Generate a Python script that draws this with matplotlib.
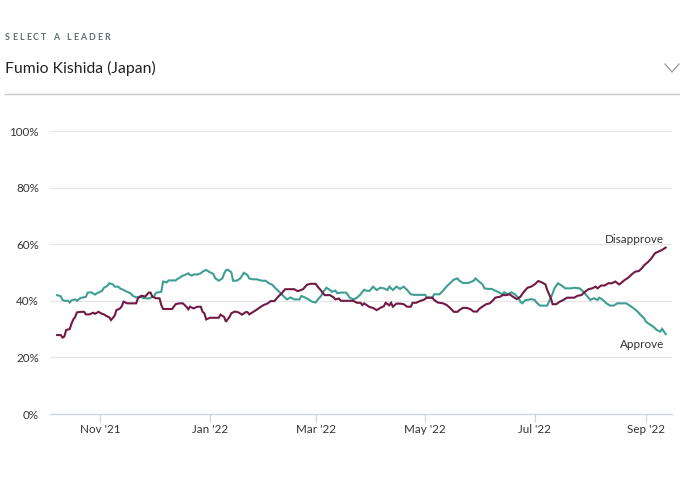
import numpy as np
import pandas as pd
import matplotlib
matplotlib.use("Agg")
from matplotlib import pyplot as plt
import matplotlib.dates as mdates
from matplotlib.lines import Line2D

Start = pd.Timestamp("2021-10-04")

# days since Start, approval share in %
ApproveDay = [4, 6, 7, 8, 10, 11, 12, 14, 15, 17, 20, 21, 23, 25, 26, 27, 29, 30, 32, 33,
              35, 36, 38, 39, 41, 43, 45, 46, 48, 50, 52, 55, 58, 59, 62, 63, 65, 66, 68, 70,
              71, 72, 74, 75, 77, 78, 79, 80, 82, 84, 85, 87, 89, 91, 92, 94, 96, 97, 98, 99,
              101, 102, 104, 106, 108, 110, 111, 113, 115, 118, 120, 122, 124, 125, 127, 130, 132, 134, 136, 139,
              140, 142, 144, 146, 148, 149, 151, 152, 154, 156, 157, 159, 160, 162, 163, 165, 167, 169, 171, 173,
              175, 176, 178, 180, 182, 184, 186, 188, 189, 191, 193, 195, 197, 199, 201, 203, 209, 210, 213, 214,
              217, 219, 221, 223, 225, 227, 228, 230, 233, 235, 236, 237, 239, 241, 242, 244, 246, 248, 250, 252,
              253, 255, 257, 259, 261, 262, 263, 265, 266, 268, 270, 271, 273, 277, 278, 280, 281, 283, 285, 287,
              290, 292, 295, 297, 299, 301, 303, 305, 306, 308, 310, 312, 314, 316, 318, 321, 323, 325, 327, 329,
              331, 332, 334, 336, 338, 340, 341, 343]
Approve = [42.0, 41.6, 40.3, 40.0, 40.0, 39.4, 40.2, 40.5, 40.0, 41.0, 41.4, 42.9, 43.0, 42.2, 42.6, 42.9, 43.5, 44.6, 45.3, 46.2,
           45.8, 45.0, 45.0, 44.4, 43.8, 43.2, 42.6, 41.8, 41.2, 41.5, 41.0, 40.8, 41.6, 42.8, 43.2, 46.8, 46.5, 47.2, 47.2, 47.2,
           47.7, 48.1, 48.9, 49.1, 49.7, 49.1, 48.9, 49.3, 49.3, 49.7, 50.3, 50.9, 50.1, 49.5, 48.0, 47.1, 47.9, 49.6, 50.8, 51.0,
           50.1, 47.1, 47.1, 47.9, 49.9, 49.1, 47.9, 47.6, 47.6, 47.1, 47.1, 46.2, 45.6, 44.8, 43.6, 41.7, 40.5, 41.2, 40.5, 40.5,
           41.7, 41.2, 40.5, 39.7, 39.4, 40.3, 41.7, 43.0, 44.6, 43.8, 43.2, 43.6, 42.7, 42.9, 42.9, 42.9, 41.1, 40.5, 41.1, 42.3,
           43.9, 43.6, 43.5, 45.0, 43.8, 44.6, 44.4, 43.8, 45.0, 43.8, 45.0, 44.2, 45.0, 43.8, 42.3, 42.1, 42.1, 41.1, 41.1, 42.3,
           42.3, 43.6, 45.1, 46.3, 47.5, 47.9, 47.1, 46.3, 46.3, 46.8, 47.1, 47.9, 46.8, 45.8, 44.4, 44.2, 44.2, 43.6, 43.0, 42.3,
           43.0, 42.3, 43.0, 42.3, 41.0, 39.7, 39.1, 40.3, 40.3, 40.6, 40.3, 39.4, 38.3, 38.3, 39.7, 42.6, 44.4, 46.2, 45.4, 44.4,
           44.4, 44.6, 44.4, 43.3, 41.8, 40.3, 40.9, 40.3, 41.1, 40.3, 39.1, 38.3, 38.3, 39.1, 39.1, 39.1, 38.3, 37.4, 36.4, 35.0,
           33.8, 32.6, 31.7, 30.9, 29.7, 29.1, 30.1, 28.2]

DisapproveDay = [4, 6, 7, 8, 9, 11, 12, 13, 14, 15, 17, 19, 20, 22, 24, 25, 27, 29, 30, 32,
                 33, 34, 36, 37, 39, 40, 41, 43, 45, 48, 49, 51, 53, 55, 56, 57, 59, 61, 62, 63,
                 65, 68, 70, 72, 74, 76, 77, 78, 80, 82, 84, 85, 86, 87, 89, 91, 94, 95, 97, 98,
                 100, 101, 103, 105, 107, 109, 110, 111, 113, 115, 117, 119, 121, 123, 125, 127, 129, 131, 134, 136,
                 138, 141, 143, 145, 148, 149, 151, 153, 156, 158, 159, 161, 162, 165, 167, 169, 171, 173, 174, 175,
                 178, 180, 182, 184, 186, 187, 189, 190, 191, 193, 195, 197, 199, 201, 202, 204, 206, 208, 210, 213,
                 214, 216, 219, 221, 223, 225, 227, 228, 230, 232, 234, 236, 238, 239, 241, 243, 245, 247, 248, 251,
                 252, 254, 256, 258, 260, 262, 264, 266, 268, 270, 272, 274, 276, 277, 279, 280, 282, 284, 286, 288,
                 290, 292, 294, 296, 298, 300, 302, 304, 305, 307, 309, 311, 313, 315, 317, 318, 320, 322, 324, 326,
                 328, 330, 331, 333, 335, 337, 339, 341, 343]
Disapprove = [27.9, 27.9, 27.0, 27.4, 29.7, 30.0, 32.0, 33.4, 34.3, 35.9, 36.1, 36.1, 35.2, 35.2, 35.8, 35.4, 36.1, 35.4, 35.2, 34.4,
              34.2, 33.2, 34.7, 36.7, 37.3, 38.1, 39.7, 39.1, 39.1, 39.1, 40.9, 41.8, 41.5, 42.9, 42.9, 41.5, 40.9, 40.9, 38.5, 37.1,
              37.1, 37.1, 38.8, 39.1, 39.1, 37.9, 37.0, 37.9, 37.3, 37.9, 37.9, 36.1, 35.6, 33.4, 34.0, 34.0, 34.0, 35.1, 34.3, 32.6,
              34.3, 35.6, 36.2, 35.9, 35.1, 36.0, 36.0, 35.2, 36.0, 36.8, 37.7, 38.5, 39.0, 39.9, 39.9, 41.4, 42.6, 44.1, 44.1, 44.1,
              43.4, 44.1, 45.6, 46.0, 46.0, 45.1, 43.6, 42.0, 42.0, 41.2, 40.5, 40.8, 40.0, 40.0, 40.0, 40.0, 39.3, 39.3, 38.5, 39.1,
              37.8, 37.5, 36.7, 37.5, 38.1, 39.3, 38.4, 39.3, 37.9, 39.0, 39.0, 38.8, 37.9, 37.9, 39.3, 39.3, 39.9, 40.3, 41.1, 41.1,
              40.3, 39.4, 39.1, 38.5, 37.4, 36.1, 36.1, 36.7, 37.5, 37.5, 37.1, 36.2, 36.2, 37.1, 38.0, 38.8, 39.1, 40.3, 41.1, 41.5,
              42.0, 42.0, 42.3, 41.4, 40.6, 41.4, 43.2, 44.6, 45.0, 45.8, 47.0, 46.5, 45.8, 43.8, 40.9, 38.8, 38.8, 39.7, 40.3, 41.1,
              41.1, 41.1, 41.8, 42.0, 43.2, 44.1, 44.4, 45.0, 44.4, 45.4, 45.4, 46.2, 46.2, 46.8, 45.8, 46.2, 47.3, 48.1, 49.3, 50.3,
              50.5, 51.7, 52.6, 53.6, 55.0, 56.8, 57.4, 58.0, 58.8]

YTicks = [0, 20, 40, 60, 80, 100]
XTicks = ["2021-11-01", "2022-01-01", "2022-03-01", "2022-05-01", "2022-07-01", "2022-09-01"]

TEAL = "#3f9e93"
MAROON = "#701a45"
TEXT = "#333333"

plt.rcParams["font.family"] = ["Lato", "DejaVu Sans"]

fig = plt.figure(figsize=(6.8, 4.86), dpi=100)
ax = fig.add_axes([50 / 680, 72 / 486, 622 / 680, 283 / 486])

approve_dates = Start + pd.to_timedelta(ApproveDay, unit="D")
disapprove_dates = Start + pd.to_timedelta(DisapproveDay, unit="D")
ax.plot(approve_dates, Approve, color=TEAL, lw=1.5, solid_joinstyle="miter", zorder=3)
ax.plot(disapprove_dates, Disapprove, color=MAROON, lw=1.5, solid_joinstyle="miter", zorder=3)

ax.text(approve_dates[-1] - pd.Timedelta(days=1), 24.7, "Approve", ha="right", va="center",
        fontsize=8.4, color=TEXT)
ax.text(disapprove_dates[-1] - pd.Timedelta(days=1), 61.8, "Disapprove", ha="right", va="center",
        fontsize=8.4, color=TEXT)

ax.set_xlim(Start, Start + pd.Timedelta(days=346.5))
ax.set_ylim(0, 100)
ax.set_yticks(YTicks)
ax.set_yticklabels([str(v) + "%" for v in YTicks])
ax.set_xticks(pd.to_datetime(XTicks))
ax.xaxis.set_major_formatter(mdates.DateFormatter("%b '%y"))

ax.grid(axis="y", color="#e6e6e6", lw=0.9)
ax.set_axisbelow(True)
for s in ["top", "right", "left"]:
    ax.spines[s].set_visible(False)
ax.spines["bottom"].set_color("#ccd6eb")
ax.spines["bottom"].set_linewidth(0.9)
ax.tick_params(axis="y", length=0, pad=8, labelsize=8.4, labelcolor=TEXT)
ax.tick_params(axis="x", length=5.5, width=0.9, color="#ccd6eb", pad=1.5, labelsize=8.4, labelcolor=TEXT)

# header: letter spaced label, leader name, chevron and divider
fig.canvas.draw()
renderer = fig.canvas.get_renderer()
x = 5
for ch in "SELECT A LEADER":
    t = fig.text(x / 680, 1 - 37 / 486, ch, fontsize=6.3, fontweight="bold", color="#5f6c71",
                 va="center", ha="left")
    w = t.get_window_extent(renderer).width
    if ch == " ":
        w = 2.5
    x += w + 2.2

fig.text(5 / 680, 1 - 68 / 486, "Fumio Kishida (Japan)", fontsize=11.3, color="#222222",
         va="center", ha="left")
fig.add_artist(Line2D([665 / 680, 672 / 680, 679 / 680], [1 - 64 / 486, 1 - 72 / 486, 1 - 64 / 486],
                      color="#9a9a9a", lw=0.9, transform=fig.transFigure))
fig.add_artist(Line2D([5 / 680, 680 / 680], [1 - 94.5 / 486, 1 - 94.5 / 486],
                      color="#c8c8c8", lw=1.0, transform=fig.transFigure))

fig.savefig("out.png", dpi=100)
